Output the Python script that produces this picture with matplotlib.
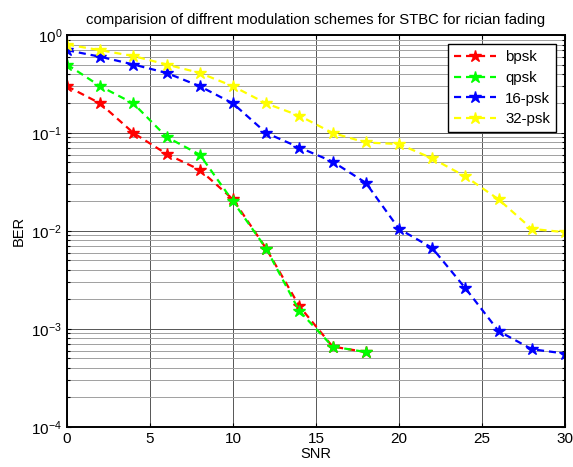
import matplotlib
matplotlib.use("Agg")
import matplotlib.pyplot as plt
from matplotlib.ticker import LogLocator, MultipleLocator, NullFormatter

plt.rcParams['font.family'] = ['Liberation Sans', 'DejaVu Sans']
plt.rcParams['mathtext.fontset'] = 'custom'
plt.rcParams['mathtext.rm'] = 'Liberation Sans'
plt.rcParams['mathtext.it'] = 'Liberation Sans'

snr_short = [0, 2, 4, 6, 8, 10, 12, 14, 16, 18]
snr_long = [0, 2, 4, 6, 8, 10, 12, 14, 16, 18, 20, 22, 24, 26, 28, 30]

ber_bpsk = [0.30, 0.20, 0.10, 0.061, 0.042, 0.021, 0.0066, 0.0017, 0.00066, 0.00058]
ber_qpsk = [0.50, 0.30, 0.20, 0.091, 0.060, 0.020, 0.0066, 0.00152, 0.00066, 0.00058]
ber_16psk = [0.70, 0.60, 0.50, 0.41, 0.30, 0.20, 0.10, 0.071, 0.051, 0.031,
             0.0105, 0.0067, 0.0026, 0.00095, 0.00062, 0.00056]
ber_32psk = [0.80, 0.70, 0.61, 0.50, 0.41, 0.30, 0.20, 0.15, 0.10, 0.080,
             0.077, 0.055, 0.036, 0.021, 0.0105, 0.0097]

series = [
    ("bpsk", snr_short, ber_bpsk, (1, 0, 0)),
    ("qpsk", snr_short, ber_qpsk, (0, 1, 0)),
    ("16-psk", snr_long, ber_16psk, (0, 0, 1)),
    ("32-psk", snr_long, ber_32psk, (1, 1, 0)),
]

fig = plt.figure(figsize=(5.73, 4.67), dpi=100)
ax = fig.add_axes([0.117, 0.086, 0.869, 0.839])

for name, x, y, c in series:
    ax.semilogy(x, y, linestyle=(0, (3.2, 2.2)), color=c, linewidth=1.6,
                marker='*', markersize=9, markeredgewidth=1.0,
                markerfacecolor=c, markeredgecolor=c, label=name)

ax.set_xlim(0, 30)
ax.set_ylim(1e-4, 1)
ax.xaxis.set_major_locator(MultipleLocator(5))
ax.yaxis.set_major_locator(LogLocator(base=10, numticks=10))
ax.yaxis.set_minor_locator(LogLocator(base=10, subs=range(2, 10), numticks=20))
ax.yaxis.set_minor_formatter(NullFormatter())

ax.grid(True, which='major', color='#555555', linewidth=0.7, linestyle='-')
ax.grid(True, which='minor', axis='y', color='#a0a0a0', linewidth=0.7, linestyle='-')
ax.set_axisbelow(True)

ax.tick_params(which='both', direction='in', top=True, right=True,
               labelsize=11, length=3, width=0.8)
ax.tick_params(which='minor', length=2)
for s in ax.spines.values():
    s.set_linewidth(1.4)
    s.set_color('black')

ax.set_xlabel('SNR', fontsize=10.5, labelpad=1)
ax.set_ylabel('BER', fontsize=10.5, labelpad=4)
ax.set_title('comparision of diffrent modulation schemes for STBC for rician fading',
             fontsize=10.7, pad=8)

leg = ax.legend(loc='upper right', fontsize=10.8, fancybox=False, framealpha=1,
                edgecolor='black', borderaxespad=0.6, handlelength=2.8,
                handletextpad=0.6, labelspacing=0.45, borderpad=0.4)
leg.get_frame().set_linewidth(1.0)

fig.savefig('out.png', dpi=100)
